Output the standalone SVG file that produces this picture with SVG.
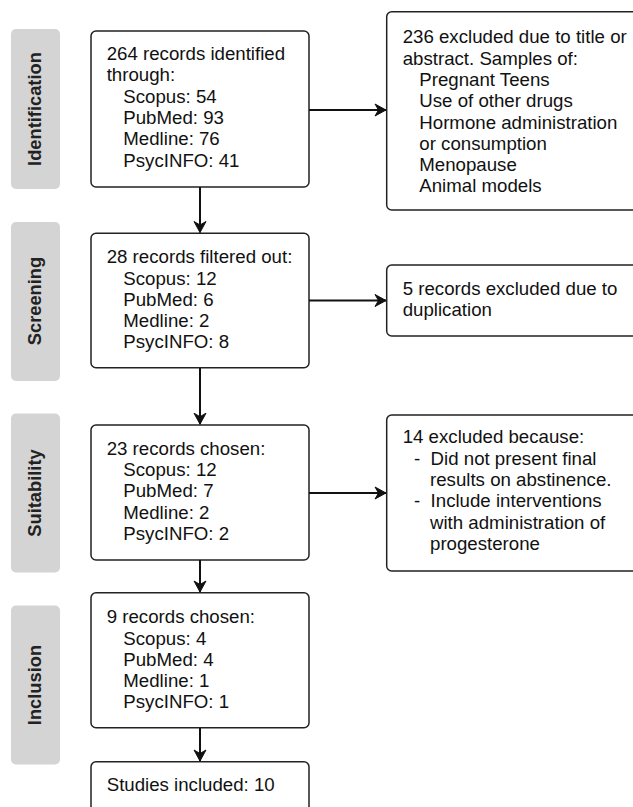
<svg xmlns="http://www.w3.org/2000/svg" width="633" height="807" viewBox="0 0 633 807">
<defs>
<marker id="ah" markerUnits="userSpaceOnUse" markerWidth="14" markerHeight="14" viewBox="-12 -7 14 14" refX="0" refY="0" orient="auto">
<path d="M0,0 L-11,-6 L-7.5,0 L-11,6 Z" fill="#111" stroke="#111" stroke-width="1" stroke-linejoin="miter"/>
</marker>
</defs>
<style>
.lab{fill:#d4d4d4}
.labt{font-family:"Liberation Sans",Arial,sans-serif;font-weight:bold;font-size:18.3px;fill:#222;text-anchor:middle}
.box{fill:#fff;stroke:#222;stroke-width:1.5}
.t{font-family:"Liberation Sans",Arial,sans-serif;font-size:18.67px;fill:#111;white-space:pre}
.c{fill:none;stroke:#111;stroke-width:2}
</style>
<rect width="633" height="807" fill="#fff"/>
<g id="label-identification"><rect class="lab" x="11" y="29" width="49" height="160" rx="5"/><text class="labt" transform="translate(41,109) rotate(-90)">Identification</text></g>
<g id="label-screening"><rect class="lab" x="11" y="222" width="49" height="159" rx="5"/><text class="labt" transform="translate(41,301) rotate(-90)">Screening</text></g>
<g id="label-suitability"><rect class="lab" x="11" y="413.5" width="49" height="159" rx="5"/><text class="labt" transform="translate(41,493) rotate(-90)">Suitability</text></g>
<g id="label-inclusion"><rect class="lab" x="11" y="605.5" width="49" height="159" rx="5"/><text class="labt" transform="translate(41,685) rotate(-90)">Inclusion</text></g>

<g id="node-identified"><rect class="box" x="91" y="31" width="218" height="156" rx="5"/>
<text class="t"><tspan x="106.7" y="60">264 records identified</tspan><tspan x="106.7" y="81.3">through:</tspan><tspan x="123.3" y="102.7">Scopus: 54</tspan><tspan x="123.3" y="124">PubMed: 93</tspan><tspan x="123.3" y="145.3">Medline: 76</tspan><tspan x="123.3" y="166.7">PsycINFO: 41</tspan></text></g>

<g id="node-excluded-title"><rect class="box" x="386.7" y="11.7" width="270" height="198.3" rx="5"/>
<text class="t"><tspan x="402.7" y="43.3">236 excluded due to title or</tspan><tspan x="402.7" y="64.6">abstract. Samples of:</tspan><tspan x="419.3" y="85.9">Pregnant Teens</tspan><tspan x="419.3" y="107.2">Use of other drugs</tspan><tspan x="419.3" y="128.5">Hormone administration</tspan><tspan x="419.3" y="149.8">or consumption</tspan><tspan x="419.3" y="171.1">Menopause</tspan><tspan x="419.3" y="192.4">Animal models</tspan></text></g>

<g id="node-filtered"><rect class="box" x="91" y="233.3" width="218" height="134.4" rx="5"/>
<text class="t"><tspan x="106.7" y="263.3">28 records filtered out:</tspan><tspan x="123.3" y="284.5">Scopus: 12</tspan><tspan x="123.3" y="305.7">PubMed: 6</tspan><tspan x="123.3" y="326.9">Medline: 2</tspan><tspan x="123.3" y="348.1">PsycINFO: 8</tspan></text></g>

<g id="node-duplication"><rect class="box" x="386.7" y="265" width="270" height="71" rx="5"/>
<text class="t"><tspan x="402.7" y="295">5 records excluded due to</tspan><tspan x="402.7" y="316.2">duplication</tspan></text></g>

<g id="node-chosen23"><rect class="box" x="91" y="425" width="218" height="135" rx="5"/>
<text class="t"><tspan x="106.7" y="455">23 records chosen:</tspan><tspan x="123.3" y="476.2">Scopus: 12</tspan><tspan x="123.3" y="497.4">PubMed: 7</tspan><tspan x="123.3" y="518.6">Medline: 2</tspan><tspan x="123.3" y="539.8">PsycINFO: 2</tspan></text></g>

<g id="node-excluded14"><rect class="box" x="386.7" y="415" width="270" height="156" rx="5"/>
<text class="t"><tspan x="402.7" y="443.3">14 excluded because:</tspan><tspan x="414" y="464.6">-  Did not present final</tspan><tspan x="430" y="485.9">results on abstinence.</tspan><tspan x="414" y="507.2">-  Include interventions</tspan><tspan x="430" y="528.5">with administration of</tspan><tspan x="430" y="549.8">progesterone</tspan></text></g>

<g id="node-chosen9"><rect class="box" x="91" y="592.7" width="218" height="135" rx="5"/>
<text class="t"><tspan x="106.7" y="623.3">9 records chosen:</tspan><tspan x="123.3" y="644.5">Scopus: 4</tspan><tspan x="123.3" y="665.7">PubMed: 4</tspan><tspan x="123.3" y="686.9">Medline: 1</tspan><tspan x="123.3" y="708.1">PsycINFO: 1</tspan></text></g>

<g id="node-included"><rect class="box" x="91" y="761.7" width="218" height="80" rx="5"/>
<text class="t"><tspan x="106.7" y="790.7">Studies included: 10</tspan></text></g>

<g id="connectors">
<line class="c" x1="309" y1="110" x2="386" y2="110" marker-end="url(#ah)"/>
<line class="c" x1="309" y1="300.5" x2="386" y2="300.5" marker-end="url(#ah)"/>
<line class="c" x1="309" y1="493" x2="386" y2="493" marker-end="url(#ah)"/>
<line class="c" x1="200" y1="187" x2="200" y2="232.5" marker-end="url(#ah)"/>
<line class="c" x1="200" y1="367.7" x2="200" y2="424.2" marker-end="url(#ah)"/>
<line class="c" x1="200" y1="560" x2="200" y2="592" marker-end="url(#ah)"/>
<line class="c" x1="200" y1="727.7" x2="200" y2="761" marker-end="url(#ah)"/>
</g>
</svg>
